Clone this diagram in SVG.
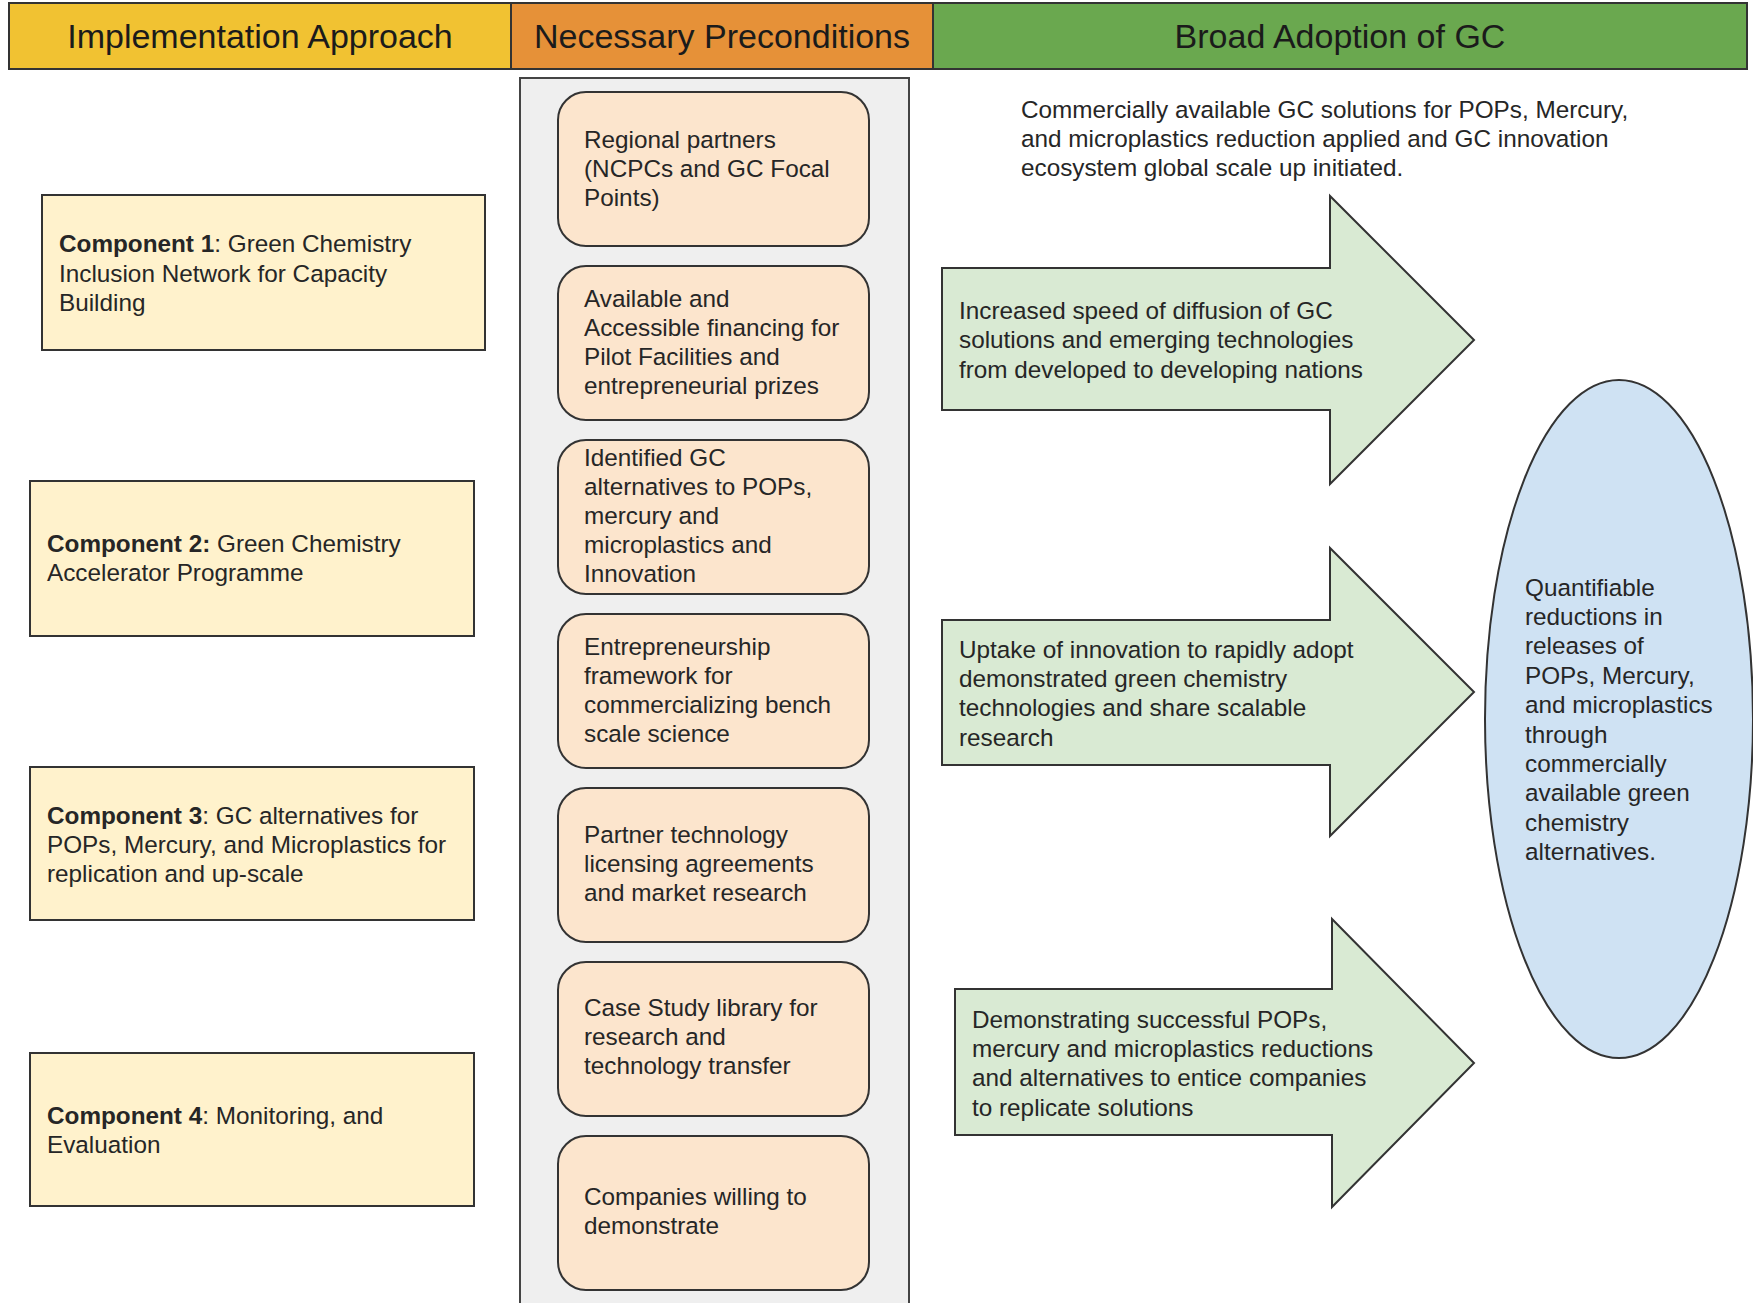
<svg xmlns="http://www.w3.org/2000/svg" width="1753" height="1303" viewBox="0 0 1753 1303">
<style>
text{font-family:"Liberation Sans",Arial,sans-serif;fill:#262626;}
.hd{font-size:34px;fill:#1b1b1b;text-anchor:middle;}
.t{font-size:24.3px;}
.b{font-weight:bold;}
.hbox{stroke:#333;stroke-width:2;}
.comp{fill:#fff2cc;stroke:#333;stroke-width:2;}
.pre{fill:#fce5cd;stroke:#333;stroke-width:2;}
.arr{fill:#d9ead3;stroke:#333;stroke-width:2;stroke-linejoin:miter;}
</style>
<rect width="1753" height="1303" fill="#ffffff"/>
<g id="header">
<rect class="hbox" x="9" y="3" width="502" height="66" fill="#f1c232"/>
<rect class="hbox" x="511" y="3" width="422" height="66" fill="#e69138"/>
<rect class="hbox" x="933" y="3" width="814" height="66" fill="#6aa84f"/>
<text class="hd" x="260" y="48">Implementation Approach</text>
<text class="hd" x="722" y="48">Necessary Preconditions</text>
<text class="hd" x="1340" y="48">Broad Adoption of GC</text>
</g>
<g id="precondition-column">
<rect x="520" y="78" width="389" height="1240" fill="#efefef" stroke="#444" stroke-width="2"/>
</g>
<g id="component-1">
<rect class="comp" x="42" y="195" width="443" height="155"/>
<text class="t" x="59" y="252"><tspan class="b">Component 1</tspan>: Green Chemistry</text>
<text class="t" x="59" y="282">Inclusion Network for Capacity</text>
<text class="t" x="59" y="311">Building</text>
</g>
<g id="component-2">
<rect class="comp" x="30" y="481" width="444" height="155"/>
<text class="t" x="47" y="552"><tspan class="b">Component 2:</tspan> Green Chemistry</text>
<text class="t" x="47" y="581">Accelerator Programme</text>
</g>
<g id="component-3">
<rect class="comp" x="30" y="767" width="444" height="153"/>
<text class="t" x="47" y="824"><tspan class="b">Component 3</tspan>: GC alternatives for</text>
<text class="t" x="47" y="853">POPs, Mercury, and Microplastics for</text>
<text class="t" x="47" y="882">replication and up-scale</text>
</g>
<g id="component-4">
<rect class="comp" x="30" y="1053" width="444" height="153"/>
<text class="t" x="47" y="1124"><tspan class="b">Component 4</tspan>: Monitoring, and</text>
<text class="t" x="47" y="1153">Evaluation</text>
</g>
<g id="pre-1">
<rect class="pre" x="558" y="92" width="311" height="154" rx="28"/>
<text class="t" x="584" y="148">Regional partners</text>
<text class="t" x="584" y="177">(NCPCs and GC Focal</text>
<text class="t" x="584" y="206">Points)</text>
</g>
<g id="pre-2">
<rect class="pre" x="558" y="266" width="311" height="154" rx="28"/>
<text class="t" x="584" y="307">Available and</text>
<text class="t" x="584" y="336">Accessible financing for</text>
<text class="t" x="584" y="365">Pilot Facilities and</text>
<text class="t" x="584" y="394">entrepreneurial prizes</text>
</g>
<g id="pre-3">
<rect class="pre" x="558" y="440" width="311" height="154" rx="28"/>
<text class="t" x="584" y="466">Identified GC</text>
<text class="t" x="584" y="495">alternatives to POPs,</text>
<text class="t" x="584" y="524">mercury and</text>
<text class="t" x="584" y="553">microplastics and</text>
<text class="t" x="584" y="582">Innovation</text>
</g>
<g id="pre-4">
<rect class="pre" x="558" y="614" width="311" height="154" rx="28"/>
<text class="t" x="584" y="655">Entrepreneurship</text>
<text class="t" x="584" y="684">framework for</text>
<text class="t" x="584" y="713">commercializing bench</text>
<text class="t" x="584" y="742">scale science</text>
</g>
<g id="pre-5">
<rect class="pre" x="558" y="788" width="311" height="154" rx="28"/>
<text class="t" x="584" y="843">Partner technology</text>
<text class="t" x="584" y="872">licensing agreements</text>
<text class="t" x="584" y="901">and market research</text>
</g>
<g id="pre-6">
<rect class="pre" x="558" y="962" width="311" height="154" rx="28"/>
<text class="t" x="584" y="1016">Case Study library for</text>
<text class="t" x="584" y="1045">research and</text>
<text class="t" x="584" y="1074">technology transfer</text>
</g>
<g id="pre-7">
<rect class="pre" x="558" y="1136" width="311" height="154" rx="28"/>
<text class="t" x="584" y="1205">Companies willing to</text>
<text class="t" x="584" y="1234">demonstrate</text>
</g>
<g id="goal-text">
<text class="t" x="1021" y="118">Commercially available GC solutions for POPs, Mercury,</text>
<text class="t" x="1021" y="147">and microplastics reduction applied and GC innovation</text>
<text class="t" x="1021" y="176">ecosystem global scale up initiated.</text>
</g>
<g id="arrow-1">
<path class="arr" d="M942,268 H1330 V196 L1474,340 L1330,484 V410 H942 Z"/>
<text class="t" x="959" y="319">Increased speed of diffusion of GC</text>
<text class="t" x="959" y="348">solutions and emerging technologies</text>
<text class="t" x="959" y="378">from developed to developing nations</text>
</g>
<g id="arrow-2">
<path class="arr" d="M942,620 H1330 V548 L1474,692 L1330,836 V765 H942 Z"/>
<text class="t" x="959" y="658">Uptake of innovation to rapidly adopt</text>
<text class="t" x="959" y="687">demonstrated green chemistry</text>
<text class="t" x="959" y="716">technologies and share scalable</text>
<text class="t" x="959" y="746">research</text>
</g>
<g id="arrow-3">
<path class="arr" d="M955,989 H1332 V919 L1474,1063 L1332,1207 V1135 H955 Z"/>
<text class="t" x="972" y="1028">Demonstrating successful POPs,</text>
<text class="t" x="972" y="1057">mercury and microplastics reductions</text>
<text class="t" x="972" y="1086">and alternatives to entice companies</text>
<text class="t" x="972" y="1116">to replicate solutions</text>
</g>
<g id="outcome">
<ellipse cx="1619" cy="719" rx="134" ry="339" fill="#cfe2f3" stroke="#333" stroke-width="2"/>
<text class="t" x="1525" y="596">Quantifiable</text>
<text class="t" x="1525" y="625">reductions in</text>
<text class="t" x="1525" y="654">releases of</text>
<text class="t" x="1525" y="684">POPs, Mercury,</text>
<text class="t" x="1525" y="713">and microplastics</text>
<text class="t" x="1525" y="743">through</text>
<text class="t" x="1525" y="772">commercially</text>
<text class="t" x="1525" y="801">available green</text>
<text class="t" x="1525" y="831">chemistry</text>
<text class="t" x="1525" y="860">alternatives.</text>
</g>
<g id="connectors"></g>
</svg>
